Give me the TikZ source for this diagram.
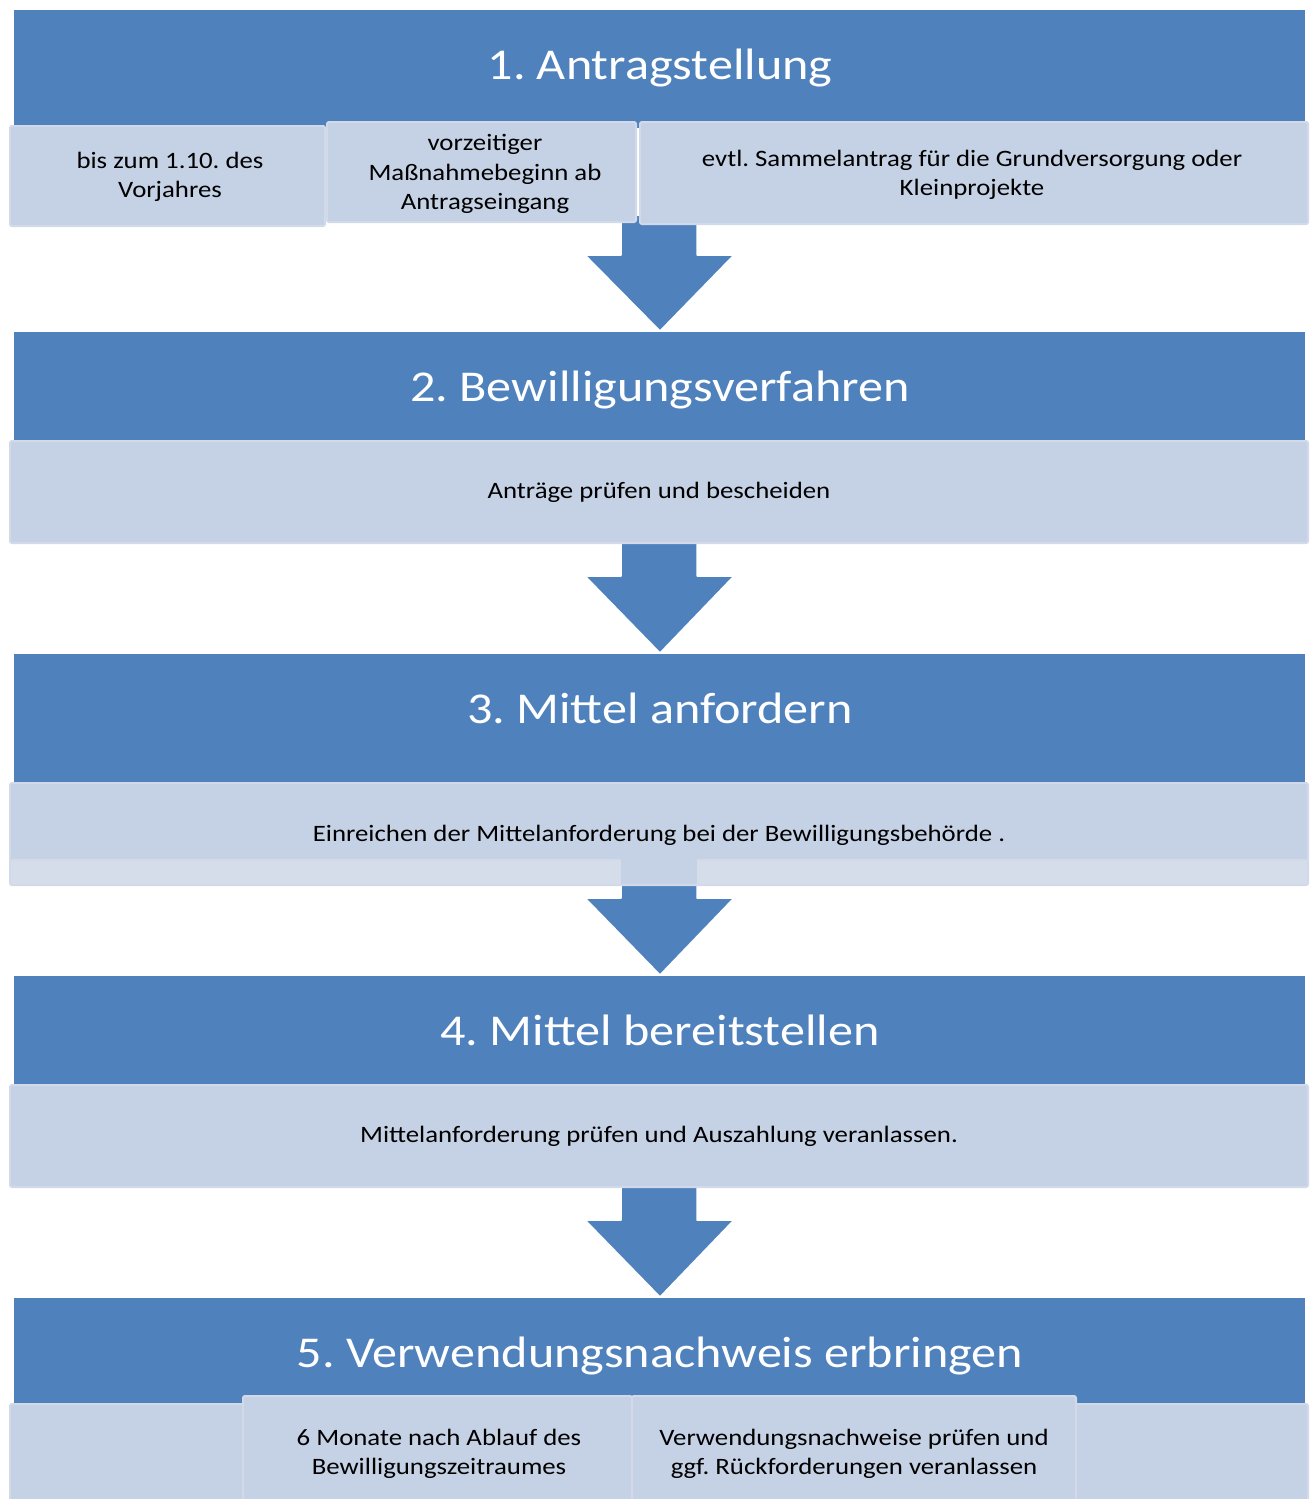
\documentclass[tikz,border=0pt]{standalone}
\usepackage{fontspec}
\setmainfont{Carlito}[FakeStretch=1.14]
\definecolor{hblue}{HTML}{4F81BD}
\definecolor{lbox}{HTML}{C5D1E4}
\definecolor{ledge}{HTML}{D2DAE9}
\definecolor{lstrip}{HTML}{D5DDEA}
\begin{document}
\frenchspacing
\begin{tikzpicture}[x=1pt,y=-1pt,
  header/.style={fill=hblue,draw=none},
  subbox/.style={fill=lbox,draw=ledge,line width=2pt,rounded corners=2pt},
  title/.style={text=white,font=\fontsize{44}{50}\selectfont,anchor=base,inner sep=0pt},
  label/.style={text=black,font=\fontsize{23.5}{29.5}\selectfont,align=center,inner sep=0pt},
  barrow/.style={fill=hblue,draw=white,line width=1.5pt,line join=round}]
\useasboundingbox (0,0) rectangle (1314,1499);
\fill[white] (0,0) rectangle (1314,1499);
% arrows (behind boxes)
\newcommand{\blockarrow}[3]{%
  \path[barrow] (621,#1) -- (697,#1) -- (697,#2) -- (734,#2) -- (660,#3) -- (585,#2) -- (621,#2) -- cycle;}
\blockarrow{215}{255}{331}
\blockarrow{535}{576}{653}
\blockarrow{870}{898}{975}
\blockarrow{1180}{1220}{1297}
% Stage 1
\fill[header] (14,10) rectangle (1305,128);
\node[title] (t1) at (660,79) {1. Antragstellung};
\draw[subbox] (10,126) rectangle (325,226);
\draw[subbox] (327,122) rectangle (636,222);
\draw[subbox] (640,122) rectangle (1308,224);
\node[label] (a1) at (170,177) {bis zum 1.10. des\\Vorjahres};
\node[label] (a2) at (485,174) {vorzeitiger\\Maßnahmebeginn ab\\Antragseingang};
\node[label] (a3) at (972,175) {evtl. Sammelantrag für die Grundversorgung oder\\Kleinprojekte};
% Stage 2
\fill[header] (14,332) rectangle (1305,444);
\node[title] (t2) at (660,401) {2. Bewilligungsverfahren};
\draw[subbox] (10,441) rectangle (1308,543);
\node[label] (b1) at (659,492) {Anträge prüfen und bescheiden};
% Stage 3
\fill[header] (14,654) rectangle (1305,786);
\node[title] (t3) at (660,723) {3. Mittel anfordern};
\draw[subbox] (10,783) rectangle (1308,885);
\fill[lstrip] (11,860) rectangle (621,884);
\fill[lstrip] (697,860) rectangle (1307,884);
\draw[ledge,line width=1.5pt] (11,860) -- (621,860) (697,860) -- (1307,860);
\node[label] (c1) at (659,835) {Einreichen der Mittelanforderung bei der Bewilligungsbehörde .};
% Stage 4
\fill[header] (14,976) rectangle (1305,1088);
\node[title] (t4) at (660,1045) {4. Mittel bereitstellen};
\draw[subbox] (10,1085) rectangle (1308,1187);
\node[label] (d1) at (659,1136) {Mittelanforderung prüfen und Auszahlung veranlassen.};
% Stage 5
\fill[header] (14,1298) rectangle (1305,1408);
\node[title] (t5) at (660,1367) {5. Verwendungsnachweis erbringen};
\draw[subbox] (10,1404) rectangle (1308,1515);
\draw[subbox] (243,1396) rectangle (632,1515);
\draw[subbox] (632,1396) rectangle (1076,1515);
\node[label] (e1) at (439,1454) {6 Monate nach Ablauf des\\Bewilligungszeitraumes};
\node[label] (e2) at (854,1454) {Verwendungsnachweise prüfen und\\ggf. Rückforderungen veranlassen};
\end{tikzpicture}
\end{document}
